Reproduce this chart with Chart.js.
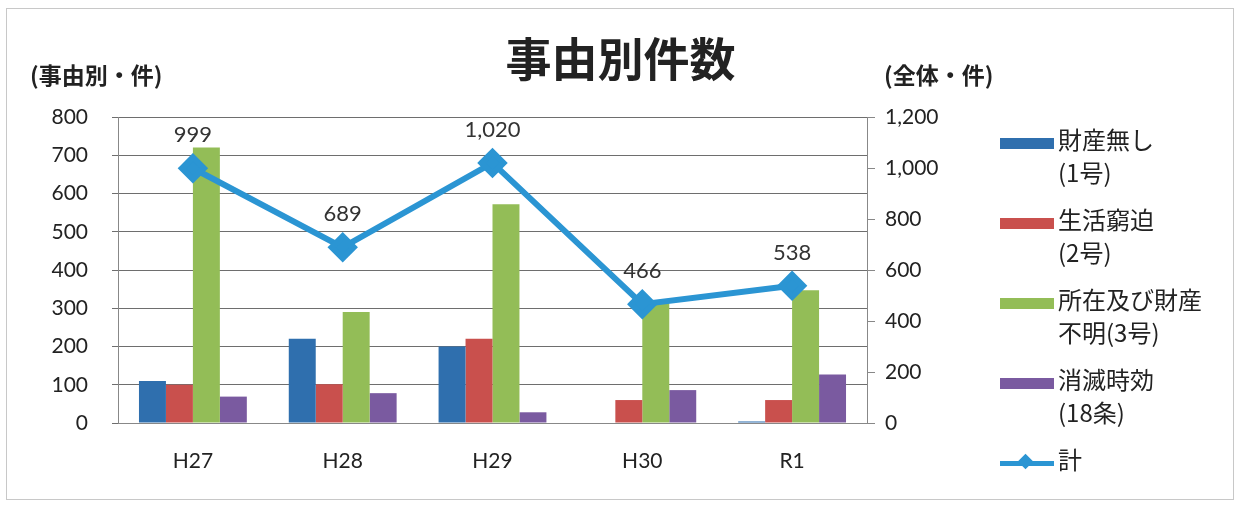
<!DOCTYPE html>
<html>
<head>
<meta charset="utf-8">
<script src="https://cdn.jsdelivr.net/npm/chart.js@4/dist/chart.umd.min.js"></script>
<style>
  body { margin: 0; background: #fff; font-family: Lato, "Noto Sans CJK JP", sans-serif; }
  #wrap { position: relative; width: 1241px; height: 508px; }
  #frame { position: absolute; left: 6px; top: 8px; width: 1226px; height: 490px; border: 1px solid #c8c8c8; }
  .txt { position: absolute; color: #222; font-family: "Noto Sans CJK JP", sans-serif; white-space: nowrap; }
  #legend { position: absolute; left: 1000px; top: 120px; }
  .item { position: relative; height: 80px; }
  .sw { position: absolute; left: 0; top: 18px; width: 54px; height: 11px; }
  .lab { position: absolute; left: 58px; top: 2px; font-size: 24px; line-height: 33px; color: #222; font-family: "Noto Sans CJK JP", sans-serif; white-space: nowrap; }
</style>
</head>
<body>
<div id="wrap">
  <div id="frame"></div>
  <canvas id="grafica" width="1241" height="508"></canvas>
  <div class="txt" style="left:0;width:1241px;text-align:center;top:28px;font-size:46px;font-weight:bold;line-height:56px;">事由別件数</div>
  <div class="txt" style="left:30px;top:57px;font-size:23px;font-weight:bold;">(事由別・件)</div>
  <div class="txt" style="left:884px;top:57px;font-size:23px;font-weight:bold;">(全体・件)</div>
  <div id="legend"></div>
</div>
<script>
// ---------------- DATOS ----------------
const anios = ['H27', 'H28', 'H29', 'H30', 'R1'];
const zaisanNashi = [110, 220, 200, 0, 4];      // 財産無し(1号)
const seikatsuKyuhaku = [100, 101, 220, 60, 60]; // 生活窮迫(2号)
const shozaiFumei = [720, 290, 572, 320, 347];   // 所在及び財産不明(3号)
const shometsuJiko = [69, 78, 28, 86, 127];      // 消滅時効(18条)
const total = [999, 689, 1020, 466, 538];        // 計
const ticksIzq = [0, 100, 200, 300, 400, 500, 600, 700, 800];
const ticksDer = [0, 200, 400, 600, 800, 1000, 1200];

const series = [
    { label: ['財産無し', '(1号)'], data: zaisanNashi, color: '#2f6fae' },
    { label: ['生活窮迫', '(2号)'], data: seikatsuKyuhaku, color: '#c9504d' },
    { label: ['所在及び財産', '不明(3号)'], data: shozaiFumei, color: '#93bd57' },
    { label: ['消滅時効', '(18条)'], data: shometsuJiko, color: '#7a5aa0' }
];
const colorLinea = '#2b95d3';
const fuente = 'Lato, "Noto Sans CJK JP", sans-serif';

// etiquetas de la línea (計)
const etiquetasLinea = {
    id: 'etiquetasLinea',
    afterDatasetsDraw(chart) {
        const ctx = chart.ctx;
        const meta = chart.getDatasetMeta(4);
        ctx.save();
        ctx.font = '22px ' + fuente;
        ctx.fillStyle = '#333';
        ctx.textAlign = 'center';
        ctx.textBaseline = 'middle';
        meta.data.forEach((p, i) => {
            ctx.fillText(total[i].toLocaleString('en-US'), p.x, p.y - 33);
        });
        ctx.restore();
    }
};

const datasets = series.map(s => ({
    type: 'bar',
    label: s.label.join(''),
    data: s.data,
    backgroundColor: s.color,
    yAxisID: 'y',
    order: 1,
    barPercentage: 1,
    categoryPercentage: 0.72
}));
datasets.push({
    type: 'line',
    label: '計',
    data: total,
    borderColor: colorLinea,
    backgroundColor: colorLinea,
    borderWidth: 6,
    pointStyle: 'rectRot',
    pointRadius: 11,
    pointHoverRadius: 11,
    yAxisID: 'y1',
    order: 0,
    tension: 0
});

new Chart(document.getElementById('grafica').getContext('2d'), {
    data: { labels: anios, datasets: datasets },
    options: {
        responsive: false,
        animation: false,
        layout: { padding: { left: 20, right: 254, top: 117, bottom: 25 } },
        plugins: { legend: { display: false }, tooltip: { enabled: false } },
        scales: {
            x: {
                grid: { display: false },
                border: { display: true, color: '#888' },
                ticks: { font: { size: 21, family: fuente }, color: '#222', padding: 18 },
                afterFit(scale) { scale.height = 60; }
            },
            y: {
                position: 'left',
                min: 0, max: 800,
                afterBuildTicks(scale) { scale.ticks = ticksIzq.map(v => ({ value: v })); },
                grid: { color: '#6e6e6e', tickLength: 6 },
                border: { color: '#888' },
                ticks: { font: { size: 21, family: fuente }, color: '#222', padding: 24 },
                afterFit(scale) { scale.width = 98; }
            },
            y1: {
                position: 'right',
                min: 0, max: 1200,
                afterBuildTicks(scale) { scale.ticks = ticksDer.map(v => ({ value: v })); },
                grid: { drawOnChartArea: false, color: '#888', tickLength: 8 },
                border: { color: '#888' },
                ticks: {
                    font: { size: 21, family: fuente }, color: '#222', padding: 10,
                    callback: v => v.toLocaleString('en-US')
                },
                afterFit(scale) { scale.width = 120; }
            }
        }
    },
    plugins: [etiquetasLinea]
});

// ---------------- LEYENDA ----------------
const leyenda = document.getElementById('legend');
series.forEach(s => {
    const item = document.createElement('div');
    item.className = 'item';
    item.innerHTML = '<div class="sw" style="background:' + s.color + '"></div>' +
        '<div class="lab">' + s.label.join('<br>') + '</div>';
    leyenda.appendChild(item);
});
const itemLinea = document.createElement('div');
itemLinea.className = 'item';
itemLinea.innerHTML =
    '<div style="position:absolute;left:0;top:21px;width:54px;height:5px;background:' + colorLinea + '"></div>' +
    '<div style="position:absolute;left:20px;top:16px;width:11px;height:11px;background:' + colorLinea + ';transform:rotate(45deg)"></div>' +
    '<div class="lab">計</div>';
leyenda.appendChild(itemLinea);
</script>
</body>
</html>
